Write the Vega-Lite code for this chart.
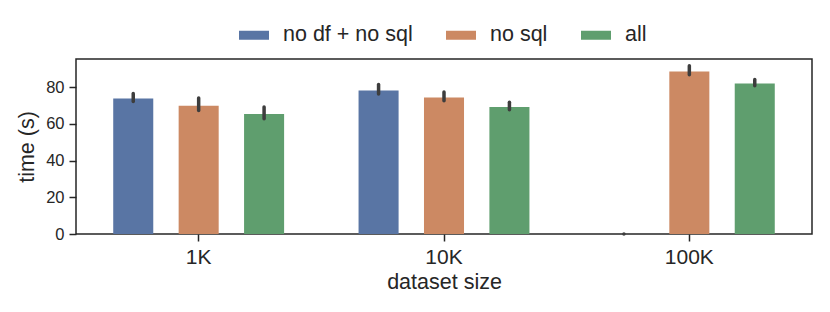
{
  "$schema": "https://vega.github.io/schema/vega-lite/v6.json",
  "width": 736,
  "height": 175,
  "autosize": {"type": "none"},
  "padding": {"left": 76, "top": 59, "right": 18, "bottom": 78},
  "background": "white",
  "config": {
    "font": "Liberation Sans",
    "view": {"stroke": "#262626", "strokeWidth": 1.5},
    "axis": {"labelColor": "#262626", "titleColor": "#262626", "tickColor": "#262626", "domain": false, "grid": false, "labelFont": "Liberation Sans", "titleFont": "Liberation Sans", "titleFontWeight": "normal"},
    "legend": {"labelFont": "Liberation Sans", "labelColor": "#262626"}
  },
  "data": {
    "values": [
      {"size": "1K", "config": "no df + no sql", "time": 73.8, "lo": 72.1, "hi": 76.5},
      {"size": "1K", "config": "no sql", "time": 69.9, "lo": 67.2, "hi": 74.0},
      {"size": "1K", "config": "all", "time": 65.4, "lo": 62.7, "hi": 69.1},
      {"size": "10K", "config": "no df + no sql", "time": 78.1, "lo": 76.2, "hi": 81.4},
      {"size": "10K", "config": "no sql", "time": 74.3, "lo": 72.5, "hi": 77.3},
      {"size": "10K", "config": "all", "time": 69.1, "lo": 67.6, "hi": 71.8},
      {"size": "100K", "config": "no df + no sql", "time": 0, "lo": 0, "hi": 0},
      {"size": "100K", "config": "no sql", "time": 88.5, "lo": 86.7, "hi": 91.6},
      {"size": "100K", "config": "all", "time": 82.0, "lo": 80.7, "hi": 84.2}
    ]
  },
  "encoding": {
    "x": {
      "field": "size", "type": "nominal", "sort": ["1K", "10K", "100K"],
      "scale": {"paddingInner": 0, "paddingOuter": 0},
      "axis": {"title": "dataset size", "labelAngle": 0, "labelFontSize": 21, "titleFontSize": 21.5, "tickSize": 7, "tickWidth": 1.5, "labelPadding": 5, "titlePadding": 4, "bandPosition": 0.5}
    },
    "xOffset": {
      "field": "config", "type": "nominal", "sort": ["no df + no sql", "no sql", "all"],
      "scale": {"paddingInner": 0.388, "paddingOuter": 0.569}
    }
  },
  "layer": [
    {
      "mark": {"type": "bar"},
      "encoding": {
        "y": {
          "field": "time", "type": "quantitative",
          "scale": {"domain": [0, 95.3], "nice": false},
          "axis": {"title": "time (s)", "values": [0, 20, 40, 60, 80], "labelFontSize": 16.5, "titleFontSize": 21.5, "tickSize": 7, "tickWidth": 1.5, "labelPadding": 5, "titlePadding": 7}
        },
        "color": {
          "field": "config", "type": "nominal", "sort": ["no df + no sql", "no sql", "all"],
          "scale": {"domain": ["no df + no sql", "no sql", "all"], "range": ["#5975a4", "#cc8963", "#5f9e6e"]},
          "legend": {
            "title": null, "orient": "none", "direction": "horizontal",
            "legendX": 163, "legendY": -39,
            "symbolType": "M-1,-0.3H1V0.3H-1Z", "symbolSize": 900, "symbolStrokeWidth": 0,
            "labelFontSize": 21.5, "labelOffset": 14, "columnPadding": 33, "symbolOpacity": 1
          }
        }
      }
    },
    {
      "mark": {"type": "rule", "color": "#3d3d3d", "strokeWidth": 3.5, "strokeCap": "round"},
      "encoding": {
        "y": {"field": "lo", "type": "quantitative"},
        "y2": {"field": "hi"}
      }
    }
  ]
}
